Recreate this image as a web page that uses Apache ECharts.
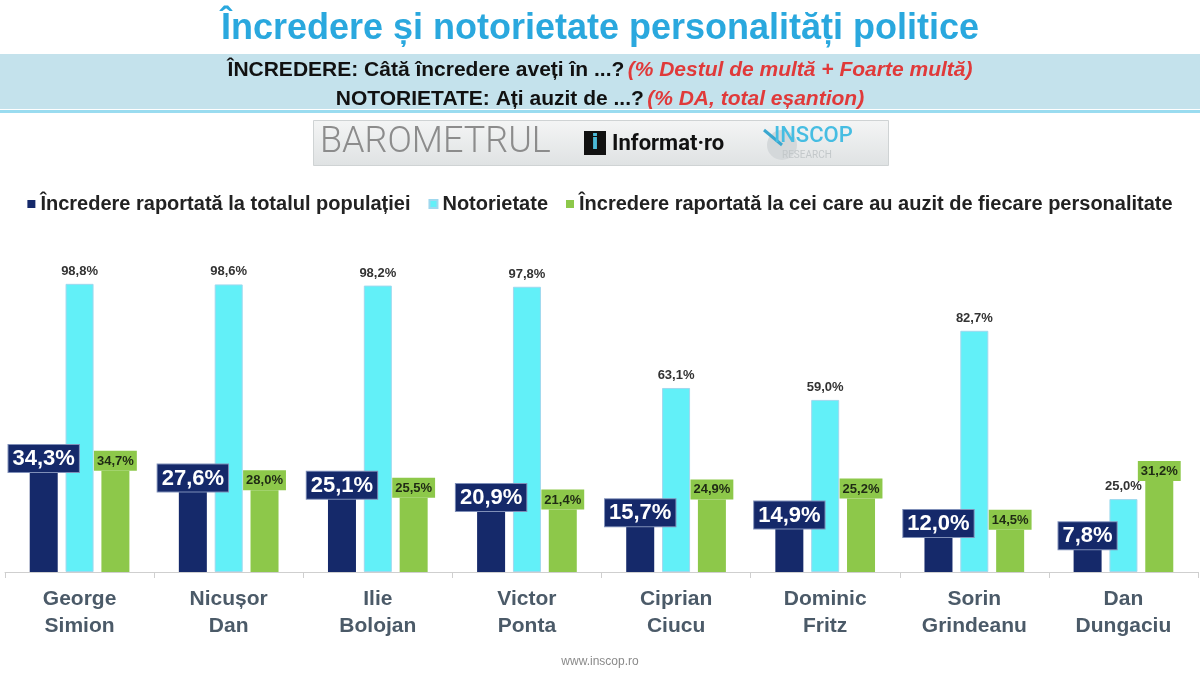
<!DOCTYPE html>
<html>
<head>
<meta charset="utf-8">
<script src="https://cdn.jsdelivr.net/npm/echarts@6/dist/echarts.min.js"></script>
<style>
  html, body { margin: 0; padding: 0; background: #fff; }
  #chart { width: 1200px; height: 673px; }
</style>
</head>
<body>
<div id="chart"></div>
<script>
// categories (two-line names)
const persons = [
  'George\nSimion', 'Nicușor\nDan', 'Ilie\nBolojan', 'Victor\nPonta',
  'Ciprian\nCiucu', 'Dominic\nFritz', 'Sorin\nGrindeanu', 'Dan\nDungaciu'
];
const seriesNames = [
  'Încredere raportată la totalul populației',
  'Notorietate',
  'Încredere raportată la cei care au auzit de fiecare personalitate'
];
const trustTotal = [34.3, 27.6, 25.1, 20.9, 15.7, 14.9, 12.0, 7.8];
const notoriety = [98.8, 98.6, 98.2, 97.8, 63.1, 59.0, 82.7, 25.0];
const trustAware = [34.7, 28.0, 25.5, 21.4, 24.9, 25.2, 14.5, 31.2];

const NAVY = '#15296a';
const CYAN = '#62f0f8';
const GREEN = '#8dc84a';
const SANS = '"Liberation Sans", Arial, sans-serif';

const pct = p => p.value.toFixed(1).replace('.', ',') + '%';

const chart = echarts.init(document.getElementById('chart'));

const option = {
  backgroundColor: '#fff',
  title: {
    text: 'Încredere și notorietate personalități politice',
    left: 'center',
    top: 6,
    textStyle: { fontFamily: SANS, fontSize: 36, fontWeight: 'bold', color: '#2aa8de' }
  },
  graphic: [
    // light blue band with the two questions
    { type: 'rect', left: 0, top: 54, shape: { width: 1200, height: 55 }, style: { fill: '#c4e2ec' }, z: -1 },
    { type: 'rect', left: 0, top: 110, shape: { width: 1200, height: 3 }, style: { fill: '#9adcf0' }, z: -1 },
    {
      type: 'text', x: 600, y: 70,
      style: {
        text: '{a|ÎNCREDERE: Câtă încredere aveți în ...?} {b|(% Destul de multă + Foarte multă)}',
        align: 'center', verticalAlign: 'middle',
        rich: {
          a: { fontFamily: SANS, fontSize: 21, fontWeight: 'bold', fill: '#111' },
          b: { fontFamily: SANS, fontSize: 21, fontWeight: 'bold', fontStyle: 'italic', fill: '#e03a3a' }
        }
      }
    },
    {
      type: 'text', x: 600, y: 99,
      style: {
        text: '{a|NOTORIETATE: Ați auzit de ...?} {b|(% DA, total eșantion)}',
        align: 'center', verticalAlign: 'middle',
        rich: {
          a: { fontFamily: SANS, fontSize: 21, fontWeight: 'bold', fill: '#111' },
          b: { fontFamily: SANS, fontSize: 21, fontWeight: 'bold', fontStyle: 'italic', fill: '#e03a3a' }
        }
      }
    },
    // logo strip
    {
      type: 'rect', left: 313, top: 120, shape: { width: 575, height: 45 },
      style: {
        fill: new echarts.graphic.LinearGradient(0, 0, 0, 1, [
          { offset: 0, color: '#f4f5f5' }, { offset: 1, color: '#dfe2e3' }
        ]),
        stroke: '#cfd3d4'
      }
    },
    {
      type: 'text', x: 320, y: 143,
      style: { text: 'BAROMETRUL', fontFamily: 'Roboto', fontWeight: 300, fontSize: 36, fill: '#8c8c8c', verticalAlign: 'middle' }
    },
    { type: 'rect', left: 584, top: 131, shape: { width: 22, height: 24 }, style: { fill: '#111' } },
    {
      type: 'text', x: 595, y: 143,
      style: { text: 'i', fontFamily: 'DejaVu Sans', fontWeight: 'bold', fontSize: 22, fill: '#4bbad8', align: 'center', verticalAlign: 'middle' }
    },
    {
      type: 'text', x: 612, y: 144,
      style: { text: 'Informat·ro', fontFamily: 'Roboto', fontWeight: 'bold', fontSize: 22, fill: '#111', verticalAlign: 'middle' }
    },
    { type: 'circle', shape: { cx: 782, cy: 145, r: 15 }, style: { fill: '#d4d8da' } },
    { type: 'line', shape: { x1: 764, y1: 130, x2: 782, y2: 145 }, style: { stroke: '#3aa7cf', lineWidth: 3 } },
    {
      type: 'text', x: 774, y: 136,
      style: { text: 'INSCOP', fontFamily: 'Roboto', fontWeight: 500, fontSize: 22, fill: '#46bde2', verticalAlign: 'middle' }
    },
    {
      type: 'text', x: 782, y: 155,
      style: { text: 'RESEARCH', fontFamily: 'Roboto', fontSize: 10, fill: '#c3c8ca', verticalAlign: 'middle' }
    },
    // footer
    {
      type: 'text', x: 600, y: 662,
      style: { text: 'www.inscop.ro', fontFamily: SANS, fontSize: 12, fill: '#8a8a8a', align: 'center', verticalAlign: 'middle' }
    }
  ],
  legend: {
    top: 189,
    left: 'center',
    itemWidth: 8,
    itemHeight: 8,
    itemGap: 18,
    icon: 'rect',
    textStyle: { fontFamily: SANS, fontSize: 20, fontWeight: 'bold', color: '#222' },
    data: seriesNames
  },
  grid: { left: 5, right: 2, top: 222, bottom: 101, containLabel: false },
  xAxis: {
    type: 'category',
    data: persons,
    axisLine: { lineStyle: { color: '#cfcfcf' } },
    axisTick: { show: true, length: 6, lineStyle: { color: '#cfcfcf' } },
    axisLabel: {
      interval: 0, margin: 14, lineHeight: 27,
      fontFamily: SANS, fontSize: 21, fontWeight: 'bold', color: '#4b5a68'
    }
  },
  yAxis: {
    type: 'value', min: 0, max: 120, show: false,
    splitLine: { show: false }
  },
  series: [
    {
      name: seriesNames[0], type: 'bar', data: trustTotal, barWidth: 28, barGap: '28%',
      itemStyle: { color: NAVY },
      label: {
        show: true, position: 'top', distance: 0, formatter: pct,
        fontFamily: SANS, fontSize: 22, fontWeight: 'bold', color: '#fff',
        backgroundColor: NAVY, borderColor: '#7f8fb8', borderWidth: 1, padding: [3, 4, 2, 4]
      }
    },
    {
      name: seriesNames[1], type: 'bar', data: notoriety, barWidth: 28,
      itemStyle: { color: CYAN, borderColor: '#9fd8ee', borderWidth: 1 },
      label: {
        show: true, position: 'top', distance: 6, formatter: pct,
        fontFamily: SANS, fontSize: 13, fontWeight: 'bold', color: '#333'
      }
    },
    {
      name: seriesNames[2], type: 'bar', data: trustAware, barWidth: 28,
      itemStyle: { color: GREEN },
      label: {
        show: true, position: 'top', distance: 0, formatter: pct,
        fontFamily: SANS, fontSize: 13, fontWeight: 'bold', color: '#1f2a14',
        backgroundColor: GREEN, padding: [4, 3, 3, 3]
      }
    }
  ]
};

chart.setOption(option);
</script>
</body>
</html>
